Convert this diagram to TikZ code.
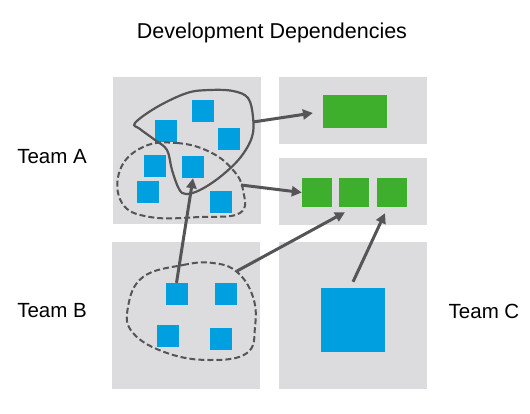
\documentclass[tikz,border=0pt]{standalone}
\usepackage{fontspec}
\setmainfont{Liberation Sans}
\usetikzlibrary{arrows.meta}
\definecolor{panelgray}{RGB}{220,220,222}
\definecolor{teamblue}{RGB}{0,159,223}
\definecolor{teamgreen}{RGB}{62,174,45}
\definecolor{linegray}{RGB}{85,85,87}
\begin{document}
\begin{tikzpicture}[
x=1pt, y=-1pt,
panelnode/.style={rectangle, fill=panelgray, inner sep=0pt, minimum width=148pt, minimum height=147pt},
halfpanel/.style={panelnode, minimum height=67pt},
bluenode/.style={rectangle, fill=teamblue, inner sep=0pt, minimum size=22pt},
greennode/.style={rectangle, fill=teamgreen, inner sep=0pt, minimum width=30pt, minimum height=29pt},
labelnode/.style={font=\fontsize{20.5}{24}\selectfont, text=black},
dep/.style={draw=linegray, line width=3pt, -{Triangle[length=10pt,width=10pt]}},
group/.style={draw=linegray, line width=2.2pt},
dashgroup/.style={group, line width=2pt, dash pattern=on 6pt off 3pt},
]
\useasboundingbox (0,0) rectangle (530,413);
% title and team labels
\node[labelnode, font=\fontsize{21.5}{24}\selectfont] (title) at (272,33) {Development Dependencies};
\node[labelnode] (teamA) at (52,157) {Team A};
\node[labelnode] (teamB) at (52,311) {Team B};
\node[labelnode] (teamC) at (484,311) {Team C};
% panels
\node[panelnode] (panelA) at (186.5,150.5) {};
\node[halfpanel] (panelTop) at (353,110.5) {};
\node[halfpanel] (panelMid) at (353,191.5) {};
\node[panelnode] (panelB) at (186,315.5) {};
\node[panelnode] (panelC) at (353,315.5) {};
% green targets
\node[greennode, minimum width=64pt, minimum height=33pt] (grTop) at (355,111.5) {};
\foreach \x [count=\i] in {317,354,392}
  \node[greennode] (gr\i) at (\x,192.5) {};
% team A modules
\foreach \x/\y [count=\i] in {203/111, 165.5/130.5, 228.5/138.5, 155/166, 193/167, 148/192, 221/201.5}
  \node[bluenode] (blueA\i) at (\x,\y) {};
% team B modules
\foreach \x/\y [count=\i] in {176.5/294, 226/294, 168/335.5, 221/339}
  \node[bluenode] (blueB\i) at (\x,\y) {};
% team C module
\node[bluenode, minimum size=64pt] (blueC) at (353,320) {};
% groups
\draw[group] plot[smooth cycle, tension=0.6] coordinates {(135,123) (157,107) (187,93) (210,90) (233,91) (248,98) (253,117) (252,137) (240,158) (220,177) (200,190) (186,194) (179,189) (172,170) (167,150) (155,140) (140,129)};
\draw[dashgroup] plot[smooth cycle, tension=0.7] coordinates {(143,147) (177,143) (210,152) (233,170) (243,190) (240,213) (200,217) (150,217) (122,203) (120,170)};
\draw[dashgroup] plot[smooth cycle, tension=0.7] coordinates {(143,277) (183,265) (213,263) (237,272) (253,297) (255,327) (247,353) (210,360) (167,353) (133,333) (128,307)};
\coordinate (outA) at (253,122);
\coordinate (outAdash) at (241,185);
\coordinate (outBdash) at (237,271);
% dependencies
\draw[dep, shorten >=10pt] (outA) -- (grTop.west);
\draw[dep] (outAdash) -- (gr1.west);
\draw[dep] (blueB1.north) -- (blueA5.south);
\draw[dep] (outBdash) -- ([xshift=-9pt,yshift=-5pt]gr2.south);
\draw[dep] ([yshift=6pt]blueC.north) -- ([xshift=-7pt,yshift=-6pt]gr3.south);
\end{tikzpicture}
\end{document}
